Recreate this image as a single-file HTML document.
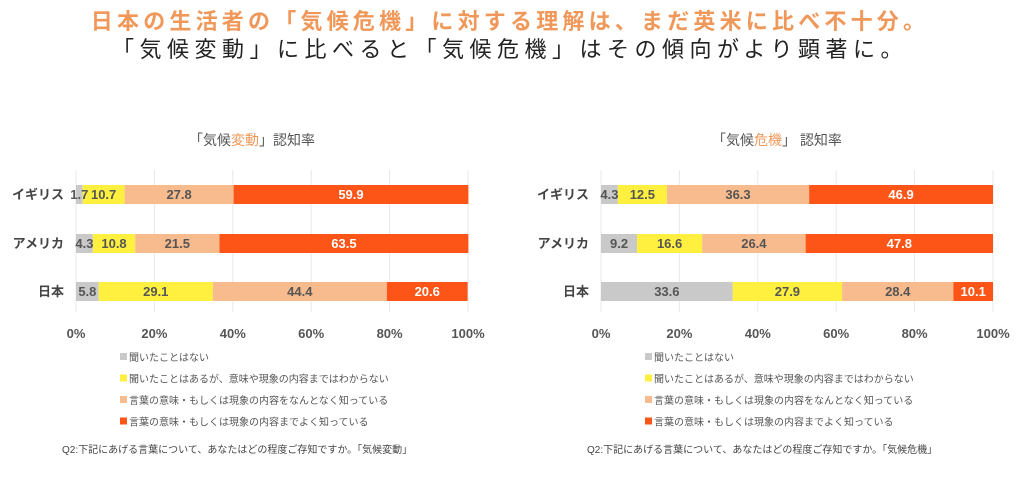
<!DOCTYPE html>
<html><head><meta charset="utf-8">
<style>
body{margin:0;width:1020px;height:501px;background:#fff;font-family:"Liberation Sans","Noto Sans CJK JP",sans-serif;overflow:hidden;position:relative}
.t{position:absolute;white-space:nowrap}
</style></head>
<body>
<div class="t" style="left:0;width:1020px;text-align:center;top:4px;font-size:22px;font-weight:bold;color:#f0985a;letter-spacing:4.2px">日本の生活者の「気候危機」に対する理解は、まだ英米に比べ不十分。</div>
<div class="t" style="left:0;width:1020px;text-align:center;top:32px;font-size:22px;color:#222;letter-spacing:5.5px">「気候変動」に比べると「気候危機」はその傾向がより顕著に。</div>
<svg id="svg" width="1020" height="501" style="position:absolute;left:0;top:0"></svg>
<script>
const countries=["イギリス","アメリカ","日本"];
const leftVals=[[1.7,10.7,27.8,59.9],[4.3,10.8,21.5,63.5],[5.8,29.1,44.4,20.6]];
const rightVals=[[4.3,12.5,36.3,46.9],[9.2,16.6,26.4,47.8],[33.6,27.9,28.4,10.1]];
const ticks=["0%","20%","40%","60%","80%","100%"];
const legend=["聞いたことはない","聞いたことはあるが、意味や現象の内容まではわからない","言葉の意味・もしくは現象の内容をなんとなく知っている","言葉の意味・もしくは現象の内容までよく知っている"];
const colors=["#c9c9c9","#fff03f","#f8bb8e","#fd5518"];
const svg=document.getElementById('svg');
const NS="http://www.w3.org/2000/svg";
function mk(t,a,p){const e=document.createElementNS(NS,t);for(const k in a)e.setAttribute(k,a[k]);(p||svg).appendChild(e);return e;}
function chart(x0,vals,titleA,titleB,note,name){
  const g=mk('g',{});
  
  
  const W=392;const sx=v=>x0+v/100*W;
  const rowY=[185,234,282];const bh=19;
  ticks.forEach((t,i)=>{const x=sx(i*20);
    const l=mk('line',{x1:x,x2:x,y1:170,y2:312,stroke:'#e8e8e8'},g);
    
    const tx=mk('text',{x:x,y:338,'text-anchor':'middle','font-size':13,fill:'#555','font-weight':'bold'},g);tx.textContent=t;
    });
  countries.forEach((c,r)=>{
    const lab=mk('text',{x:x0-12,y:rowY[r]+14,'text-anchor':'end','font-size':13,fill:'#444','font-weight':'bold'},g);lab.textContent=c;
    
    let acc=0;
    vals[r].forEach((v,s)=>{
      const rc=mk('rect',{x:sx(acc),y:rowY[r],width:sx(acc+v)-sx(acc),height:bh,fill:colors[s]},g);
      
      acc+=v;});
    acc=0;
    vals[r].forEach((v,s)=>{
      const tx=mk('text',{x:(sx(acc)+sx(acc+v))/2,y:rowY[r]+14,'text-anchor':'middle','font-size':13,'font-weight':'bold',fill:s==3?'#fff':'#555'},g);tx.textContent=v;
      
      acc+=v;});
  });
  const tt=mk('text',{x:x0+W/2-20,y:145,'text-anchor':'middle','font-size':14,fill:'#555'},g);
  
  const a=mk('tspan',{},tt);a.textContent="「気候";
  const b=mk('tspan',{fill:'#f0985a'},tt);b.textContent=titleA;
  const c=mk('tspan',{},tt);c.textContent=titleB;
  legend.forEach((l,i)=>{const y=357+i*21.5;
    const sq=mk('rect',{x:x0+44,y:y-4,width:7,height:7,fill:colors[i]},g);
    
    const tx=mk('text',{x:x0+53,y:y+4,'font-size':10,fill:'#555'},g);tx.textContent=l;
    });
  const n=mk('text',{x:x0-14,y:453,'font-size':10,fill:'#444'},g);n.textContent=note;
  
}
chart(76,leftVals,"変動","」認知率","Q2:下記にあげる言葉について、あなたはどの程度ご存知ですか。「気候変動」","left-chart");
chart(601,rightVals,"危機","」 認知率","Q2:下記にあげる言葉について、あなたはどの程度ご存知ですか。「気候危機」","right-chart");
</script>
</body></html>
